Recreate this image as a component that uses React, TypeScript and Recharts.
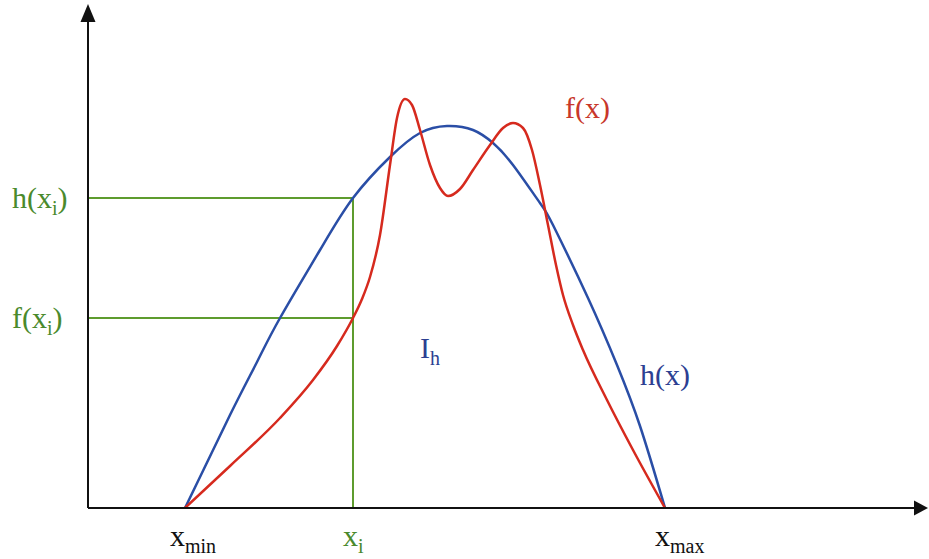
import { LineChart, Line, XAxis, YAxis, ReferenceLine, ReferenceDot } from "recharts";

// curve samples (x along axis, y height above axis)
const hX = [97, 142, 169, 192, 232, 265, 302, 332, 359, 385, 405, 425, 452, 465, 500, 529, 552, 577];
const hY = [0, 93, 146, 190, 258, 310, 351, 375, 382, 378, 365, 343, 305, 283, 210, 143, 82, 0];

const fX = [97, 142, 192, 225, 249, 265, 274, 282, 292, 302, 309, 317, 324, 332, 342, 352, 360, 372, 385, 402, 415, 425, 435, 444, 452, 460, 468, 475, 485, 495, 519, 545, 577];
const fY = [0, 42, 90, 128, 162, 190, 209, 231, 273, 343, 390, 409, 403, 378, 343, 320, 312, 319, 338, 363, 380, 385, 380, 358, 323, 283, 243, 213, 183, 158, 108, 58, 0];

const xMin = 97;
const xI = 265;
const xMax = 577;
const hAtXi = 310;
const fAtXi = 190;

const hData = hX.map((x, i) => ({ x, y: hY[i] }));
const fData = fX.map((x, i) => ({ x, y: fY[i] }));

const RED = "#d62a1e";
const BLUE = "#2a4ea6";
const GREEN = "#5e9c2e";
const GREEN_TEXT = "#4a8a2c";
const FONT = "'Liberation Serif', 'DejaVu Serif', serif";

// text with a subscript part
const sub = (main: string, low: string, tail: string, color: string, dx: number, dy: number, anchor = "start") =>
  (p: any) => (
    <text x={p.cx + dx} y={p.cy + dy} fill={color} fontFamily={FONT} fontSize={30} textAnchor={anchor}>
      <tspan>{main}</tspan>
      <tspan fontSize={20} dy={7}>{low}</tspan>
      {tail ? <tspan dy={-7}>{tail}</tspan> : null}
    </text>
  );

const plain = (s: string, color: string) => (p: any) => (
  <text x={p.cx} y={p.cy} fill={color} fontFamily={FONT} fontSize={30}>{s}</text>
);

const arrowRight = (p: any) => (
  <polygon points={`${p.cx},${p.cy} ${p.cx - 14},${p.cy - 7.5} ${p.cx - 14},${p.cy + 7.5}`} fill="#111" />
);
const arrowUp = (p: any) => (
  <polygon points={`${p.cx},${p.cy} ${p.cx - 7.5},${p.cy + 18} ${p.cx + 7.5},${p.cy + 18}`} fill="#111" />
);

export default function App() {
  return (
    <div style={{ position: "absolute", left: 0, top: 0, background: "#fff" }}>
      <LineChart width={929} height={559} margin={{ top: 4, right: 1, bottom: 51, left: 88 }}>
        <XAxis type="number" dataKey="x" domain={[0, 840]} hide allowDataOverflow />
        <YAxis type="number" dataKey="y" domain={[0, 504]} hide allowDataOverflow />

        {/* green construction lines */}
        <ReferenceLine segment={[{ x: 0, y: hAtXi }, { x: xI, y: hAtXi }]} stroke={GREEN} strokeWidth={2} ifOverflow="visible" />
        <ReferenceLine segment={[{ x: 0, y: fAtXi }, { x: xI, y: fAtXi }]} stroke={GREEN} strokeWidth={2} ifOverflow="visible" />
        <ReferenceLine segment={[{ x: xI, y: 0 }, { x: xI, y: hAtXi }]} stroke={GREEN} strokeWidth={2} ifOverflow="visible" />

        <Line data={hData} dataKey="y" type="natural" stroke={BLUE} strokeWidth={2.5} dot={false} activeDot={false} isAnimationActive={false} />
        <Line data={fData} dataKey="y" type="monotone" stroke={RED} strokeWidth={2.5} dot={false} activeDot={false} isAnimationActive={false} />

        {/* axes */}
        <ReferenceLine segment={[{ x: 0, y: 0 }, { x: 828, y: 0 }]} stroke="#111" strokeWidth={2} ifOverflow="visible" />
        <ReferenceLine segment={[{ x: 0, y: 0 }, { x: 0, y: 490 }]} stroke="#111" strokeWidth={2} ifOverflow="visible" />
        <ReferenceDot x={840} y={0} r={0} shape={arrowRight} ifOverflow="visible" />
        <ReferenceDot x={0} y={504} r={0} shape={arrowUp} ifOverflow="visible" />

        {/* labels */}
        <ReferenceDot x={0} y={hAtXi} r={0} shape={sub("h(x", "i", ")", GREEN_TEXT, -76, 10)} ifOverflow="visible" />
        <ReferenceDot x={0} y={fAtXi} r={0} shape={sub("f(x", "i", ")", GREEN_TEXT, -76, 10)} ifOverflow="visible" />
        <ReferenceDot x={xMin} y={0} r={0} shape={sub("x", "min", "", "#111", -15, 38)} ifOverflow="visible" />
        <ReferenceDot x={xI} y={0} r={0} shape={sub("x", "i", "", GREEN_TEXT, -10, 38)} ifOverflow="visible" />
        <ReferenceDot x={xMax} y={0} r={0} shape={sub("x", "max", "", "#111", -10, 38)} ifOverflow="visible" />
        <ReferenceDot x={477} y={390} r={0} shape={plain("f(x)", "#c8372a")} ifOverflow="visible" />
        <ReferenceDot x={552} y={123} r={0} shape={plain("h(x)", "#2c3f92")} ifOverflow="visible" />
        <ReferenceDot x={332} y={150} r={0} shape={sub("I", "h", "", "#2c3f92", 0, 0)} ifOverflow="visible" />
      </LineChart>
    </div>
  );
}
